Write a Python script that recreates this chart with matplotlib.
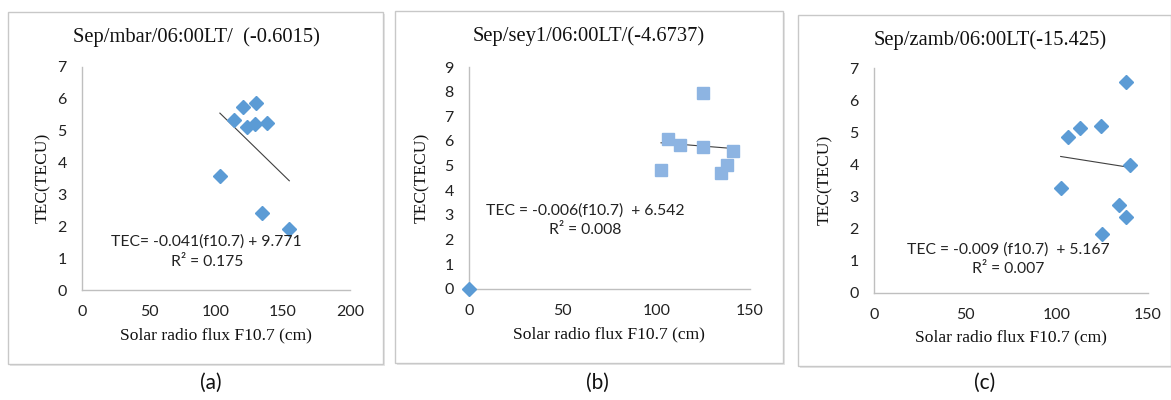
import matplotlib
matplotlib.use("Agg")
import matplotlib.pyplot as plt
from matplotlib.patches import Rectangle
import numpy as np

W, H = 1171, 400

# ---- data ----
a_x = [102.9, 113.6, 120.3, 122.8, 129.0, 129.8, 137.7, 134.7, 154.7]
a_y = [3.57, 5.33, 5.75, 5.12, 5.20, 5.87, 5.25, 2.42, 1.92]
a_fit = [-0.041, 9.771]

b_x = [102.5, 106.4, 112.6, 124.7, 125.1, 134.3, 137.9, 140.7]
b_y = [4.82, 6.10, 5.83, 7.95, 5.77, 4.72, 5.03, 5.59]
b_origin_x = [0]
b_origin_y = [0]
b_fit = [-0.006, 6.542]

c_x = [102.2, 106.4, 112.8, 124.5, 137.8, 140.3, 134.1, 138.1, 124.8]
c_y = [3.26, 4.84, 5.12, 5.20, 6.56, 3.98, 2.74, 2.36, 1.85]
c_fit = [-0.009, 5.167]

titles = ["Sep/mbar/06:00LT/  (-0.6015)", "Sep/sey1/06:00LT/(-4.6737)", "Sep/zamb/06:00LT(-15.425)"]
eq_texts = ["TEC= -0.041(f10.7) + 9.771", "TEC = -0.006(f10.7)  + 6.542", "TEC = -0.009 (f10.7)  + 5.167"]
r2_texts = ["R\u00b2 = 0.175", "R\u00b2 = 0.008", "R\u00b2 = 0.007"]
sub_labels = ["(a)", "(b)", "(c)"]
xticks_list = [[0, 50, 100, 150, 200], [0, 50, 100, 150], [0, 50, 100, 150]]
yticks_list = [list(range(0, 8)), list(range(0, 10)), list(range(0, 8))]

DIAMOND = "#5B9BD5"
SQUARE = "#8DB4E2"
GRID = "#BFBFBF"
SERIF = "Liberation Serif"
SANS = "Lato"

fig = plt.figure(figsize=(W / 100, H / 100), dpi=100)

def fx(px):
    return px / W

def fy(py):
    return 1 - py / H

# panel frames (x0, y0, x1, y1) in pixels
frames = [(8, 12, 383, 364), (395, 11, 783, 363), (798, 15, 1171, 366)]
for (x0, y0, x1, y1) in frames:
    sh = Rectangle((fx(x0 + 2), fy(y1 + 2)), fx(x1 - x0), (y1 - y0) / H,
                   transform=fig.transFigure, facecolor="#E6E6E6", edgecolor="none", zorder=0)
    fig.patches.append(sh)
    r = Rectangle((fx(x0), fy(y1)), fx(x1 - x0), (y1 - y0) / H,
                  transform=fig.transFigure, facecolor="white", edgecolor="#C8C8C8", lw=1.0, zorder=0.5)
    fig.patches.append(r)

# axes rects (left, top, right, bottom) in pixels
ax_px = [(82, 67, 350, 290), (469, 67, 750, 289), (874, 68, 1148, 293)]
xlims = [(0, 200), (0, 150), (0, 150)]
ylims = [(0, 7), (0, 9), (0, 7)]

axes = []
for i, (l, t, r, b) in enumerate(ax_px):
    ax = fig.add_axes([fx(l), fy(b), fx(r - l), (b - t) / H])
    ax.set_zorder(3)
    ax.set_facecolor("none")
    ax.set_xlim(*xlims[i])
    ax.set_ylim(*ylims[i])
    ax.set_xticks(xticks_list[i])
    ax.set_yticks(yticks_list[i])
    for s in ["top", "right"]:
        ax.spines[s].set_visible(False)
    for s in ["left", "bottom"]:
        ax.spines[s].set_color(GRID)
        ax.spines[s].set_linewidth(1.0)
    ax.tick_params(length=0, pad=11, labelsize=11.5, labelcolor="#222222")
    for lab in ax.get_xticklabels() + ax.get_yticklabels():
        lab.set_fontfamily(SANS)
    axes.append(ax)

def trend(ax, xs, fit):
    xr = np.array([min(xs), max(xs)])
    ax.plot(xr, fit[0] * xr + fit[1], color="#404040", lw=0.8, zorder=3)

# (a)
axes[0].plot(a_x, a_y, ls="none", marker="D", ms=7, color=DIAMOND, mec=DIAMOND, zorder=4, clip_on=False)
trend(axes[0], a_x, a_fit)
# (b)
axes[1].plot(b_origin_x, b_origin_y, ls="none", marker="D", ms=7, color=DIAMOND, zorder=4, clip_on=False)
axes[1].plot(b_x, b_y, ls="none", marker="s", ms=8, color=SQUARE, mec=SQUARE, zorder=4, clip_on=False)
trend(axes[1], b_x, b_fit)
# (c)
axes[2].plot(c_x, c_y, ls="none", marker="D", ms=7, color=DIAMOND, mec=DIAMOND, zorder=4, clip_on=False)
trend(axes[2], c_x, c_fit)

# text positions in pixels
title_pos = [(196, 37), (589, 36), (990, 40)]
xlabel_pos = [(216, 335), (609, 334), (1011, 337)]
ylabel_pos = [(43, 178), (422, 178), (825, 180)]
eq_pos = [(206, 242), (585, 211), (1008, 250)]
r2_pos = [(207, 262), (585, 230), (1008, 269)]
sub_pos = [(211, 383), (597, 383), (985, 383)]

for i in range(3):
    fig.text(fx(title_pos[i][0]), fy(title_pos[i][1]), titles[i], ha="center", va="center",
             fontsize=14.8, family=SERIF, color="#111111", zorder=5)
    fig.text(fx(xlabel_pos[i][0]), fy(xlabel_pos[i][1]), "Solar radio flux F10.7 (cm)", ha="center",
             va="center", fontsize=12.6, family=SERIF, color="#111111", zorder=5)
    fig.text(fx(ylabel_pos[i][0]), fy(ylabel_pos[i][1]), "TEC(TECU)", ha="center", va="center",
             rotation=90, fontsize=12.6, family=SERIF, color="#111111", zorder=5)
    fig.text(fx(eq_pos[i][0]), fy(eq_pos[i][1]), eq_texts[i], ha="center", va="center",
             fontsize=11.3, family=SANS, color="#222222", zorder=5)
    fig.text(fx(r2_pos[i][0]), fy(r2_pos[i][1]), r2_texts[i], ha="center", va="center",
             fontsize=11.3, family=SANS, color="#222222", zorder=5)
    fig.text(fx(sub_pos[i][0]), fy(sub_pos[i][1]), sub_labels[i], ha="center", va="center",
             fontsize=15, family=SANS, color="#111111", zorder=5)

fig.savefig("out.png", dpi=100)
